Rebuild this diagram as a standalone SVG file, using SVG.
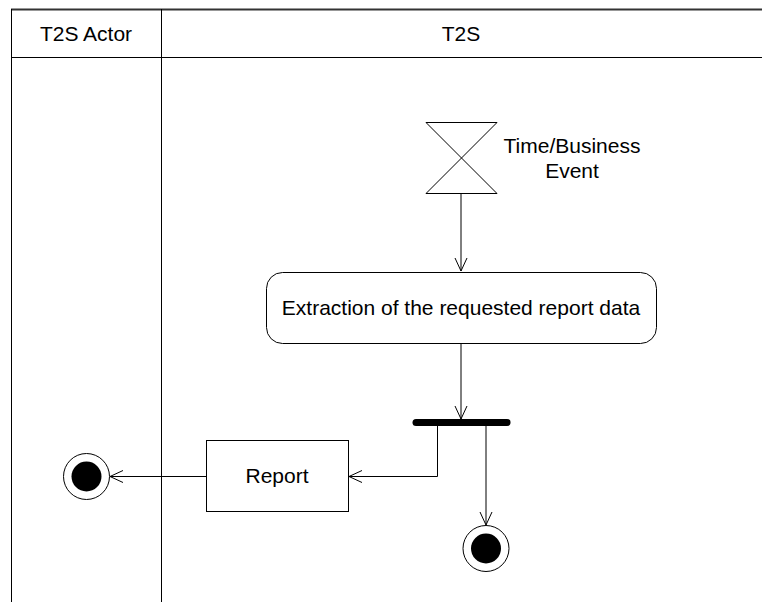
<svg xmlns="http://www.w3.org/2000/svg" width="762" height="602" viewBox="0 0 762 602">
<style>
text{font-family:"Liberation Sans",Arial,sans-serif;font-size:21px;fill:#000;text-anchor:middle}
.ln{stroke:#000;stroke-width:1;fill:none}
.shape{stroke:#000;stroke-width:1;fill:#fff}
</style>
<defs>
<marker id="open" markerWidth="14" markerHeight="14" refX="13" refY="7" orient="auto" markerUnits="userSpaceOnUse">
<path d="M0,1 L13,7 L0,13" fill="none" stroke="#000" stroke-width="1"/>
</marker>
</defs>
<rect width="762" height="602" fill="#fff"/>
<g id="swimlanes">
<line x1="11" y1="9.5" x2="762" y2="9.5" stroke="#333" stroke-width="2"/>
<line x1="11.5" y1="9" x2="11.5" y2="602" class="ln"/>
<line x1="161.5" y1="9" x2="161.5" y2="602" class="ln"/>
<line x1="11" y1="57.5" x2="762" y2="57.5" class="ln"/>
<text x="86" y="41">T2S Actor</text>
<text x="461" y="41">T2S</text>
</g>
<g id="connectors">
<line x1="461" y1="193" x2="461" y2="271" class="ln" marker-end="url(#open)"/>
<line x1="461" y1="343" x2="461" y2="419" class="ln" marker-end="url(#open)"/>
<polyline points="437.5,425 437.5,476.5 349,476.5" class="ln" marker-end="url(#open)"/>
<line x1="206" y1="476.5" x2="110" y2="476.5" class="ln" marker-end="url(#open)"/>
<line x1="486" y1="425" x2="486" y2="525" class="ln" marker-end="url(#open)"/>
</g>
<g id="time-event">
<polygon points="426,122.5 497,122.5 426,193.5 497,193.5" class="shape"/>
<text x="572" y="153">Time/Business</text>
<text x="572" y="178">Event</text>
</g>
<g id="extraction">
<rect x="266.5" y="272.5" width="390" height="71" rx="16" ry="16" class="shape"/>
<text x="461" y="315">Extraction of the requested report data</text>
</g>
<g id="fork">
<line x1="416" y1="422.5" x2="507" y2="422.5" stroke="#000" stroke-width="7" stroke-linecap="round"/>
</g>
<g id="report">
<rect x="206.5" y="440.5" width="142" height="71" class="shape"/>
<text x="277" y="483">Report</text>
</g>
<g id="final-actor">
<circle cx="86.5" cy="476.5" r="23" class="shape"/>
<circle cx="86.5" cy="476.5" r="15" fill="#000"/>
</g>
<g id="final-t2s">
<circle cx="486" cy="548.5" r="23" class="shape"/>
<circle cx="486" cy="548.5" r="15" fill="#000"/>
</g>
</svg>
